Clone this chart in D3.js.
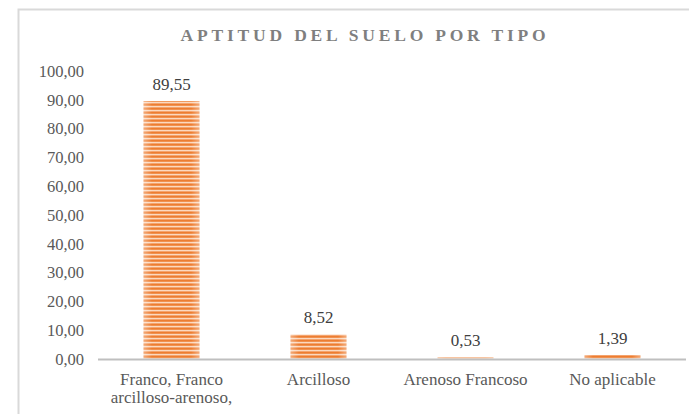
<!DOCTYPE html>
<html><head><meta charset="utf-8">
<script src="https://cdn.jsdelivr.net/npm/d3@7"></script>
<style>body{margin:0;background:#fff}svg{display:block}</style>
</head><body>
<script>
const categories = [["Franco, Franco","arcilloso-arenoso,"],["Arcilloso"],["Arenoso Francoso"],["No aplicable"]];
const values = [89.55, 8.52, 0.53, 1.39];
const yTicks = [0,10,20,30,40,50,60,70,80,90,100];
const title = "APTITUD DEL SUELO POR TIPO";

const W = 689, H = 414;
const svg = d3.select("body").append("svg").attr("width", W).attr("height", H);
const font = "'Liberation Serif'";

// frame
svg.append("path").attr("d", "M18.5,414 V9.5 H689").attr("fill","none").attr("stroke","#d9d9d9").attr("stroke-width",2);

// pattern
const defs = svg.append("defs");
const pat = defs.append("pattern").attr("id","stripes").attr("patternUnits","userSpaceOnUse").attr("width",4).attr("height",4);
pat.append("rect").attr("width",4).attr("height",4).attr("fill","#f4a46e");
pat.append("rect").attr("y",0).attr("width",4).attr("height",1).attr("fill","#ed7d31");
pat.append("rect").attr("y",1).attr("width",4).attr("height",1).attr("fill","#f09150");
pat.append("rect").attr("y",2).attr("width",4).attr("height",1).attr("fill","#fbd9c0");
const grad = defs.append("linearGradient").attr("id","edge").attr("x1","0").attr("x2","1");
grad.append("stop").attr("offset","0").attr("stop-color","#fff").attr("stop-opacity",0.35);
grad.append("stop").attr("offset","0.15").attr("stop-color","#fff").attr("stop-opacity",0);
grad.append("stop").attr("offset","0.85").attr("stop-color","#fff").attr("stop-opacity",0);
grad.append("stop").attr("offset","1").attr("stop-color","#fff").attr("stop-opacity",0.35);

const x = d3.scaleBand().domain(d3.range(categories.length)).range([98, 686]).paddingInner(0.62).paddingOuter(0.31);
const y = d3.scaleLinear().domain([0, 100]).range([359, 71]);

// title
svg.append("text").attr("x", 365).attr("y", 41).attr("text-anchor","middle")
  .style("font-family", font).attr("font-weight","bold").attr("font-size", 17.5)
  .attr("letter-spacing", 3.8).attr("fill","#7f7f7f").text(title);

// y axis labels
const yAxis = d3.axisLeft(y).tickValues(yTicks).tickSize(0).tickPadding(0)
  .tickFormat(d => d3.format(".2f")(d).replace(".", ","));
const ya = svg.append("g").attr("transform","translate(84,0)").call(yAxis);
ya.select(".domain").remove();
ya.attr("font-family", null).attr("font-size", null);
ya.selectAll("text").style("font-family", font).attr("font-size", 16.5).attr("fill","#595959");

// bars
const bars = svg.append("g");
bars.selectAll("rect.b").data(values).join("rect").attr("class","b")
  .attr("x",(d,i)=>x(i)).attr("width",x.bandwidth())
  .attr("y",d=>y(d)).attr("height",d=>y(0)-y(d)).attr("fill","url(#stripes)");
bars.selectAll("rect.e").data(values).join("rect").attr("class","e")
  .attr("x",(d,i)=>x(i)).attr("width",x.bandwidth())
  .attr("y",d=>y(d)).attr("height",d=>y(0)-y(d)).attr("fill","url(#edge)");

// axis line
svg.append("line").attr("x1",98).attr("x2",686).attr("y1",359.5).attr("y2",359.5).attr("stroke","#bfbfbf").attr("stroke-width",2);

// value labels
svg.append("g").selectAll("text").data(values).join("text")
  .attr("x",(d,i)=>x(i)+x.bandwidth()/2).attr("y",d=>y(d)-11)
  .attr("text-anchor","middle").style("font-family",font).attr("font-size",17).attr("fill","#404040")
  .text(d=>d3.format(".2f")(d).replace(".", ","));

// category labels (one text per line)
const catLines = categories.flatMap((lines,i)=>lines.map((t,j)=>({i,j,t})));
svg.append("g").selectAll("text").data(catLines).join("text")
  .attr("x",d=>x(d.i)+x.bandwidth()/2).attr("y",d=>385+d.j*18)
  .attr("text-anchor","middle").style("font-family",font).attr("font-size",17).attr("fill","#595959")
  .text(d=>d.t);
</script>
</body></html>
